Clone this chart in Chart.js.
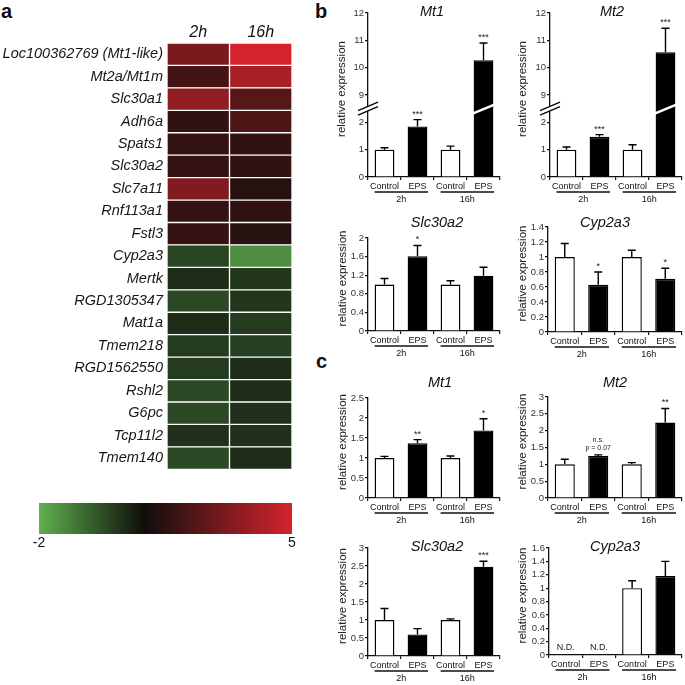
<!DOCTYPE html>
<html>
<head>
<meta charset="utf-8">
<script src="https://cdn.jsdelivr.net/npm/chart.js@4.4.1/dist/chart.umd.min.js"></script>
<style>
  html, body { margin: 0; padding: 0; background: #fff; width: 685px; height: 685px; overflow: hidden; }
  canvas { position: absolute; }
  .panel { position: absolute; font: bold 20px "Liberation Sans", Arial, sans-serif; color: #111; line-height: 20px; }
</style>
</head>
<body>
<div class="panel" style="left:1px;top:1px">a</div>
<div class="panel" style="left:315px;top:1px">b</div>
<div class="panel" style="left:316px;top:351px">c</div>

<canvas id="heat"></canvas>
<canvas id="scaleBar"></canvas>
<canvas id="bMt1"></canvas>
<canvas id="bMt2"></canvas>
<canvas id="bSlc"></canvas>
<canvas id="bCyp"></canvas>
<canvas id="cMt1"></canvas>
<canvas id="cMt2"></canvas>
<canvas id="cSlc"></canvas>
<canvas id="cCyp"></canvas>

<script>
const FONT = '"Liberation Sans", Arial, sans-serif';

// --- panel a: heatmap ---
const genes = ['Loc100362769 (Mt1-like)', 'Mt2a/Mt1m', 'Slc30a1', 'Adh6a', 'Spats1', 'Slc30a2',
  'Slc7a11', 'Rnf113a1', 'Fstl3', 'Cyp2a3', 'Mertk', 'RGD1305347', 'Mat1a', 'Tmem218',
  'RGD1562550', 'Rshl2', 'G6pc', 'Tcp11l2', 'Tmem140'];
const timeLabels = ['2h', '16h'];
const heat2h  = [3.15, 2.0, 3.6, 1.6, 1.7, 1.7, 3.3, 1.7, 1.7, -0.07, 0.37, -0.15, 0.37, 0.1, 0.1, -0.15, -0.15, 0.3, -0.15];
const heat16h = [5.0, 4.1, 2.4, 2.2, 1.6, 1.6, 1.4, 1.6, 1.4, -1.38, 0.2, 0.2, 0.1, 0.02, 0.37, 0.37, 0.3, 0.3, 0.37];
const colorMin = -2, colorMid = 0.9, colorMax = 5;

// --- panels b and c: qPCR bars ---
const groupLabels = ['Control', 'EPS', 'Control', 'EPS'];
const brokenTicks = ['0', '1', '2', '9', '10', '11', '12'];

const bMt1 = [1.00, 1.85, 1.00, 10.27];
const bMt1Err = [0.07, 0.25, 0.13, 0.63];
const bMt1Sig = ['', '***', '', '***'];

const bMt2 = [1.00, 1.47, 1.00, 10.56];
const bMt2Err = [0.10, 0.08, 0.18, 0.88];
const bMt2Sig = ['', '***', '', '***'];

const bSlc = [1.00, 1.61, 1.00, 1.19];
const bSlcErr = [0.13, 0.23, 0.08, 0.18];
const bSlcSig = ['', '*', '', ''];

const bCyp = [1.00, 0.63, 1.00, 0.71];
const bCypErr = [0.18, 0.17, 0.09, 0.14];
const bCypSig = ['', '*', '', '*'];

const cMt1 = [1.00, 1.37, 1.00, 1.69];
const cMt1Err = [0.04, 0.09, 0.05, 0.29];
const cMt1Sig = ['', '**', '', '*'];

const cMt2 = [1.00, 1.25, 1.00, 2.24];
const cMt2Err = [0.15, 0.03, 0.05, 0.42];
const cMt2Sig = ['', 'n.s.\np = 0.07', '', '**'];

const cSlc = [1.00, 0.60, 1.00, 2.48];
const cSlcErr = [0.32, 0.16, 0.03, 0.15];
const cSlcSig = ['', '', '', '***'];

const cCyp = [null, null, 1.00, 1.18];   // N.D. at 2h
const cCypErr = [0, 0, 0.11, 0.22];
const cCypSig = ['', '', '', ''];

// colour scale green -> black -> red
const cGreen = [95, 175, 80], cBlack = [15, 15, 12], cRed = [212, 35, 45];
function mix(a, b, t) {
  return 'rgb(' + a.map((v, i) => Math.round(v + (b[i] - v) * t)).join(',') + ')';
}
function heatColor(v) {
  if (v <= colorMid) return mix(cBlack, cGreen, (colorMid - v) / (colorMid - colorMin));
  return mix(cBlack, cRed, (v - colorMid) / (colorMax - colorMid));
}

function place(canvas, left, top, w, h) {
  canvas.width = w; canvas.height = h;
  canvas.style.left = left + 'px'; canvas.style.top = top + 'px';
  canvas.style.width = w + 'px'; canvas.style.height = h + 'px';
}

// heatmap as stacked horizontal bars, one colour per cell
const heatCanvas = document.getElementById('heat');
place(heatCanvas, 0, 0, 300, 482);
new Chart(heatCanvas, {
  type: 'bar',
  data: {
    labels: genes,
    datasets: [
      { label: timeLabels[0], data: genes.map(() => 1), backgroundColor: heat2h.map(heatColor) },
      { label: timeLabels[1], data: genes.map(() => 1), backgroundColor: heat16h.map(heatColor) }
    ]
  },
  options: {
    indexAxis: 'y',
    responsive: false,
    animation: false,
    layout: { padding: { top: 0, right: 8, bottom: 3, left: 0 } },
    datasets: { bar: { categoryPercentage: 1, barPercentage: 1, borderColor: '#fff', borderWidth: 1, borderSkipped: false } },
    plugins: { legend: { display: false }, tooltip: { enabled: false } },
    scales: {
      x: { stacked: true, min: 0, max: 2, display: false },
      xTop: {
        type: 'category', position: 'top', labels: timeLabels, offset: true,
        grid: { display: false, drawTicks: false }, border: { display: false },
        ticks: { color: '#111', padding: 1, font: { family: FONT, size: 16, style: 'italic' } },
        afterFit: s => { s.height = 43; }
      },
      y: {
        stacked: true,
        grid: { display: false, drawTicks: false }, border: { display: false },
        ticks: { color: '#161616', padding: 4, autoSkip: false, font: { family: FONT, size: 14.5, style: 'italic' } },
        afterFit: s => { s.width = 167; }
      }
    }
  }
});

// colour key
const keyCanvas = document.getElementById('scaleBar');
place(keyCanvas, 0, 495, 300, 60);
new Chart(keyCanvas, {
  type: 'bar',
  data: {
    labels: [''],
    datasets: [{
      data: [[colorMin, colorMax]],
      backgroundColor(c) {
        const area = c.chart.chartArea;
        if (!area) return '#000';
        const g = c.chart.ctx.createLinearGradient(area.left, 0, area.right, 0);
        g.addColorStop(0, heatColor(colorMin));
        g.addColorStop((colorMid - colorMin) / (colorMax - colorMin), heatColor(colorMid));
        g.addColorStop(1, heatColor(colorMax));
        return g;
      }
    }]
  },
  options: {
    indexAxis: 'y',
    responsive: false,
    animation: false,
    layout: { padding: { top: 8, right: 8, bottom: 0, left: 39 } },
    datasets: { bar: { categoryPercentage: 1, barPercentage: 1 } },
    plugins: { legend: { display: false }, tooltip: { enabled: false } },
    scales: {
      x: {
        type: 'linear', min: colorMin, max: colorMax,
        afterBuildTicks: s => { s.ticks = [{ value: colorMin }, { value: colorMax }]; },
        grid: { display: false, drawTicks: false }, border: { display: false },
        ticks: { color: '#111', padding: 1, font: { family: FONT, size: 14 } },
        afterFit: s => { s.height = 21; }
      },
      y: { display: false }
    }
  }
});

// error bars, stars, group labels, title, axis break
const decor = {
  id: 'decor',
  afterDatasetsDraw(chart, args, o) {
    const ctx = chart.ctx, xs = chart.scales.x, ys = chart.scales.y;
    const slot = (xs.right - xs.left) / o.values.length;
    ctx.save();
    ctx.strokeStyle = '#000';
    ctx.fillStyle = '#222';
    ctx.lineWidth = 1.4;
    ctx.textAlign = 'center';
    o.values.forEach((v, i) => {
      const x = xs.getPixelForValue(i);
      if (v === null) {
        ctx.font = '9px ' + FONT;
        ctx.textBaseline = 'alphabetic';
        ctx.fillText('N.D.', x, ys.getPixelForValue(0) - 5);
        return;
      }
      const yBar = ys.getPixelForValue(o.toAxis(v));
      const yTop = ys.getPixelForValue(o.toAxis(v + o.errors[i]));
      ctx.beginPath();
      ctx.moveTo(x, yBar); ctx.lineTo(x, yTop);
      ctx.moveTo(x - 4, yTop); ctx.lineTo(x + 4, yTop);
      ctx.stroke();
      if (o.sig[i]) {
        const lines = o.sig[i].split('\n');
        const multi = lines.length > 1;
        ctx.font = (multi ? '7px ' : '9px ') + FONT;
        ctx.textBaseline = multi ? 'middle' : 'alphabetic';
        lines.reverse().forEach((t, k) => {
          ctx.fillText(t, x, multi ? yTop - 7 - k * 8 : yTop - 3);
        });
      }
    });
    if (o.broken) {
      const yb = ys.getPixelForValue(2.5);
      const ax = xs.left;
      ctx.fillStyle = '#fff';
      ctx.beginPath();
      ctx.moveTo(ax - 4, yb + 4); ctx.lineTo(ax + 4, yb + 0.5);
      ctx.lineTo(ax + 4, yb - 4); ctx.lineTo(ax - 4, yb - 0.5);
      ctx.closePath(); ctx.fill();
      ctx.strokeStyle = '#000'; ctx.lineWidth = 1.2;
      ctx.beginPath();
      ctx.moveTo(ax - 10, yb + 6.5); ctx.lineTo(ax + 10, yb - 2);
      ctx.moveTo(ax - 10, yb + 2); ctx.lineTo(ax + 10, yb - 6.5);
      ctx.stroke();
      // white cut across the tall bar
      const meta = chart.getDatasetMeta(0);
      const last = meta.data[o.values.length - 1];
      ctx.strokeStyle = '#fff'; ctx.lineWidth = 2.5;
      ctx.beginPath();
      ctx.moveTo(last.x - last.width / 2 - 1, yb + 5);
      ctx.lineTo(last.x + last.width / 2 + 1, yb - 4);
      ctx.stroke();
    }
    // underlines and time labels
    ctx.strokeStyle = '#111'; ctx.fillStyle = '#111'; ctx.lineWidth = 1.3;
    ctx.font = '9px ' + FONT;
    ctx.textBaseline = 'middle';
    const base = ys.getPixelForValue(0);
    for (let g = 0; g < timeLabels.length; g++) {
      const x0 = xs.getPixelForValue(2 * g) - slot * 0.3;
      const x1 = xs.getPixelForValue(2 * g + 1) + slot * 0.32;
      ctx.beginPath();
      ctx.moveTo(x0, base + 15); ctx.lineTo(x1, base + 15);
      ctx.stroke();
      ctx.fillText(timeLabels[g], (x0 + x1) / 2, base + 23);
    }
    // title
    ctx.font = 'italic 14.5px ' + FONT;
    ctx.fillStyle = '#111';
    ctx.fillText(o.title, o.titleX, o.titleY);
    // y title
    ctx.font = '11.5px ' + FONT;
    ctx.fillStyle = '#222';
    ctx.translate(o.ytitleX, (ys.top + ys.bottom) / 2 - 6);
    ctx.rotate(-Math.PI / 2);
    ctx.fillText('relative expression', 0, 0);
    ctx.restore();
  }
};

function barChart(id, p) {
  const YW = 42, XH = 30;
  const cLeft = p.left - YW, cTop = p.titleY - 12;
  const w = p.right - p.left + YW + 4, h = p.bottom + XH - cTop;
  const canvas = document.getElementById(id);
  place(canvas, cLeft, cTop, w, h);
  const toAxis = p.broken ? (v => (v > 8.5 ? v - 6 : v)) : (v => v);
  new Chart(canvas, {
    type: 'bar',
    data: {
      labels: groupLabels,
      datasets: [{
        data: p.values.map(v => (v === null ? null : toAxis(v))),
        backgroundColor: ['#fff', '#000', '#fff', '#000'],
        borderColor: '#000',
        borderWidth: 1.4
      }]
    },
    options: {
      responsive: false,
      animation: false,
      layout: { padding: { top: p.top - cTop, right: 4, bottom: 0, left: 0 } },
      datasets: { bar: { categoryPercentage: 1, barPercentage: 0.6 } },
      plugins: {
        legend: { display: false }, tooltip: { enabled: false },
        decor: {
          values: p.values, errors: p.errors, sig: p.sig, toAxis, broken: p.broken,
          title: p.title, titleX: p.titleX - cLeft, titleY: p.titleY - cTop, ytitleX: p.ytitleX - cLeft
        }
      },
      scales: {
        x: {
          grid: { display: true, drawOnChartArea: false, offset: true, tickLength: 3, color: '#111', lineWidth: 1.2 },
          border: { color: '#111', width: 1.3 },
          ticks: { color: '#111', padding: 1, maxRotation: 0, autoSkip: false, font: { family: FONT, size: 9 } },
          afterFit: s => { s.height = XH; }
        },
        y: {
          min: 0, max: p.max,
          grid: { display: true, drawOnChartArea: false, tickLength: 3, color: '#111', lineWidth: 1.2 },
          border: { color: '#111', width: 1.3 },
          ticks: {
            stepSize: p.step, autoSkip: false, color: '#333', padding: 1, font: { family: FONT, size: 9.5 },
            callback: v => (p.broken ? brokenTicks[Math.round(v)] : String(+v.toFixed(2)))
          },
          afterFit: s => { s.width = YW; }
        }
      }
    },
    plugins: [decor]
  });
}

barChart('bMt1', { title: 'Mt1', values: bMt1, errors: bMt1Err, sig: bMt1Sig, max: 6, step: 1, broken: true,
  left: 368, right: 500, top: 13, bottom: 177, titleX: 432, titleY: 12, ytitleX: 342 });
barChart('bMt2', { title: 'Mt2', values: bMt2, errors: bMt2Err, sig: bMt2Sig, max: 6, step: 1, broken: true,
  left: 550, right: 682, top: 13, bottom: 177, titleX: 612, titleY: 12, ytitleX: 523 });
barChart('bSlc', { title: 'Slc30a2', values: bSlc, errors: bSlcErr, sig: bSlcSig, max: 2, step: 0.4,
  left: 368, right: 500, top: 238, bottom: 331, titleX: 437, titleY: 223, ytitleX: 343 });
barChart('bCyp', { title: 'Cyp2a3', values: bCyp, errors: bCypErr, sig: bCypSig, max: 1.4, step: 0.2,
  left: 548, right: 682, top: 227, bottom: 332, titleX: 605, titleY: 223, ytitleX: 523 });
barChart('cMt1', { title: 'Mt1', values: cMt1, errors: cMt1Err, sig: cMt1Sig, max: 2.5, step: 0.5,
  left: 368, right: 500, top: 398, bottom: 498, titleX: 440, titleY: 383, ytitleX: 343 });
barChart('cMt2', { title: 'Mt2', values: cMt2, errors: cMt2Err, sig: cMt2Sig, max: 3, step: 0.5,
  left: 548, right: 682, top: 397, bottom: 498, titleX: 615, titleY: 383, ytitleX: 523 });
barChart('cSlc', { title: 'Slc30a2', values: cSlc, errors: cSlcErr, sig: cSlcSig, max: 3, step: 0.5,
  left: 368, right: 500, top: 548, bottom: 656, titleX: 437, titleY: 547, ytitleX: 343 });
barChart('cCyp', { title: 'Cyp2a3', values: cCyp, errors: cCypErr, sig: cCypSig, max: 1.6, step: 0.2,
  left: 549, right: 682, top: 548, bottom: 655, titleX: 615, titleY: 547, ytitleX: 523 });
</script>
</body>
</html>
